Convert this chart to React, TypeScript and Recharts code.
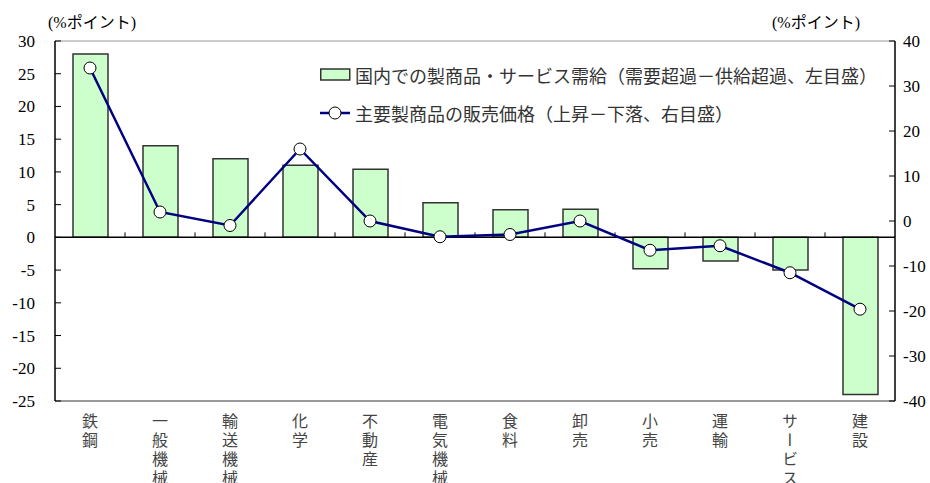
import { ComposedChart, Bar, Line, XAxis, YAxis, ReferenceLine } from "recharts";

// 業種別（左: 需給判断、右: 販売価格判断）
const industries = ["鉄鋼", "一般機械", "輸送機械", "化学", "不動産", "電気機械", "食料", "卸売", "小売", "運輸", "サービス", "建設"];
const supplyDemand = [28, 14, 12, 11, 10.4, 5.3, 4.2, 4.3, -4.8, -3.6, -5, -24];
const outputPrice = [34, 2, -1, 16, 0, -3.5, -3, 0, -6.5, -5.5, -11.5, -19.6];

const leftTicks = [30, 25, 20, 15, 10, 5, 0, -5, -10, -15, -20, -25];
const rightTicks = [40, 30, 20, 10, 0, -10, -20, -30, -40];

const barLegend = "国内での製商品・サービス需給（需要超過－供給超過、左目盛）";
const lineLegend = "主要製商品の販売価格（上昇－下落、右目盛）";
const unitLabel = "(%ポイント)";

const data = industries.map((name, i) => ({
  name,
  demand: supplyDemand[i],
  price: outputPrice[i],
}));

const NUM_FONT = '"Liberation Serif", "Times New Roman", serif';
const JP_FONT = '"Noto Sans CJK JP", sans-serif';
const UNIT_FONT = '"Liberation Serif", "Noto Sans CJK JP", serif';

const LeftTick = ({ x, y, payload }: any) => (
  <g>
    <line x1={x + 20} x2={x + 26} y1={y} y2={y} stroke="#000" strokeWidth={1} />
    <text x={x} y={y} dy={6} textAnchor="end" style={{ fontFamily: NUM_FONT, fontSize: 17 }} fill="#000">
      {payload.value}
    </text>
  </g>
);

const RightTick = ({ x, y, payload }: any) => (
  <g>
    <line x1={x - 8} x2={x - 14} y1={y} y2={y} stroke="#000" strokeWidth={1} />
    <text x={x} y={y} dy={6} textAnchor="start" style={{ fontFamily: NUM_FONT, fontSize: 17 }} fill="#000">
      {payload.value}
    </text>
  </g>
);

// 縦書きの業種名
const CategoryTick = ({ x, y, payload }: any) => (
  <text
    x={x}
    y={y + 12}
    fill="#444"
    style={{ fontFamily: JP_FONT, fontSize: 16, writingMode: "vertical-rl", letterSpacing: 3 }}
  >
    {payload.value}
  </text>
);

// ゼロ線と区切りの目盛
const ZeroLine = (props: any) => {
  const { x1, x2, y1 } = props;
  const step = (x2 - x1) / industries.length;
  const marks = industries.slice(1).map((_, i) => x1 + step * (i + 1));
  return (
    <g>
      <line x1={x1} x2={x2} y1={y1} y2={y1} stroke="#000" strokeWidth={1.5} />
      {marks.map((mx, i) => (
        <line key={i} x1={mx} x2={mx} y1={y1} y2={y1 - 5} stroke="#000" strokeWidth={1} />
      ))}
    </g>
  );
};

export default function App() {
  return (
    <div style={{ position: "absolute", left: 0, top: 0, width: 930, height: 483, background: "#fff" }}>
      <div style={{ position: "absolute", left: 48, top: 14, fontFamily: UNIT_FONT, fontSize: 16, lineHeight: "18px", color: "#000" }}>
        {unitLabel}
      </div>
      <div style={{ position: "absolute", left: 772, top: 14, fontFamily: UNIT_FONT, fontSize: 16, lineHeight: "18px", color: "#000" }}>
        {unitLabel}
      </div>

      <ComposedChart width={930} height={483} data={data} margin={{ top: 41, right: 0, bottom: 0, left: 0 }}>
        <XAxis
          dataKey="name"
          height={82}
          interval={0}
          tickSize={0}
          tickMargin={0}
          tickLine={false}
          axisLine={{ stroke: "#999", strokeWidth: 2 }}
          tick={<CategoryTick />}
        />
        <YAxis
          yAxisId="left"
          orientation="left"
          width={55}
          domain={[-25, 30]}
          ticks={leftTicks}
          interval={0}
          tickSize={0}
          tickMargin={20}
          tickLine={false}
          axisLine={{ stroke: "#000", strokeWidth: 1.5 }}
          tick={<LeftTick />}
        />
        <YAxis
          yAxisId="right"
          orientation="right"
          width={35}
          domain={[-40, 40]}
          ticks={rightTicks}
          interval={0}
          tickSize={0}
          tickMargin={8}
          tickLine={false}
          axisLine={{ stroke: "#000", strokeWidth: 1.5 }}
          tick={<RightTick />}
        />
        <ReferenceLine yAxisId="left" y={30} stroke="#999" strokeWidth={1} />
        <Bar
          yAxisId="left"
          dataKey="demand"
          barSize={35}
          fill="#CCFFCC"
          stroke="#333"
          strokeWidth={1.5}
          isAnimationActive={false}
        />
        <ReferenceLine yAxisId="left" y={0} shape={<ZeroLine />} />
        <Line
          yAxisId="right"
          dataKey="price"
          type="linear"
          stroke="#000080"
          strokeWidth={2.5}
          dot={{ r: 6, fill: "#fff", stroke: "#000", strokeWidth: 1 }}
          isAnimationActive={false}
        />
      </ComposedChart>

      <div style={{ position: "absolute", left: 320, top: 62, fontFamily: JP_FONT, fontSize: 18, color: "#333" }}>
        <div style={{ display: "flex", alignItems: "center", height: 26 }}>
          <svg width={35} height={26}>
            <rect x={0.75} y={7} width={29} height={11} fill="#CCFFCC" stroke="#333" strokeWidth={1.5} />
          </svg>
          <span>{barLegend}</span>
        </div>
        <div style={{ display: "flex", alignItems: "center", height: 26, marginTop: 12 }}>
          <svg width={35} height={26}>
            <line x1={0} x2={30} y1={13} y2={13} stroke="#000080" strokeWidth={2.5} />
            <circle cx={15} cy={13} r={6} fill="#fff" stroke="#000" strokeWidth={1} />
          </svg>
          <span>{lineLegend}</span>
        </div>
      </div>
    </div>
  );
}
